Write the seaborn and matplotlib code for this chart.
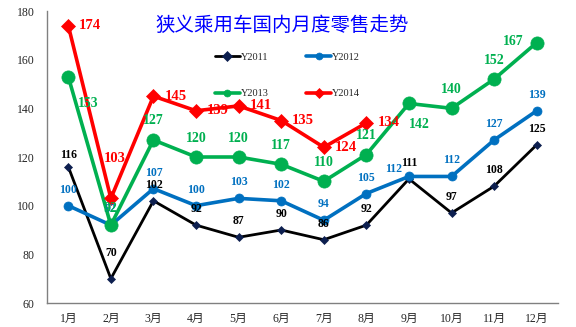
import matplotlib
matplotlib.use("Agg")
import matplotlib.pyplot as plt
import seaborn as sns
import pandas as pd
import numpy as np

months = ["1月", "2月", "3月", "4月", "5月", "6月", "7月", "8月", "9月", "10月", "11月", "12月"]
y2011 = [116, 70, 102, 92, 87, 90, 86, 92, 111, 97, 108, 125]
y2012 = [100, 92, 107, 100, 103, 102, 94, 105, 112, 112, 127, 139]
y2013 = [153, 92, 127, 120, 120, 117, 110, 121, 142, 140, 152, 167]
y2014 = [174, 103, 145, 139, 141, 135, 124, 134]
series_names = ["Y2011", "Y2012", "Y2013", "Y2014"]
title = "狭义乘用车国内月度零售走势"

sns.set_theme(style="white")
plt.rcParams["font.family"] = ["Liberation Serif", "Noto Sans CJK SC"]

styles = {
    "Y2011": dict(color="#000000", mfc="#0D1F4F", marker="D", lw=2.0, ms=4.5, fs=8.5, lblc="#000000"),
    "Y2012": dict(color="#0070C0", mfc="#0070C0", marker="o", lw=2.6, ms=6.5, fs=8.5, lblc="#0070C0"),
    "Y2013": dict(color="#00B050", mfc="#00B050", marker="o", lw=2.6, ms=9.5, fs=10, lblc="#00B050"),
    "Y2014": dict(color="#FF0000", mfc="#FF0000", marker="D", lw=2.6, ms=7, fs=10.5, lblc="#FF0000"),
}
# label offsets in pixels (dx, dy up)
default_off = {"Y2011": (0, 16), "Y2012": (0, 16), "Y2013": (0, 19), "Y2014": (22, 0)}
special_off = {
    ("Y2011", 0): (0, 12), ("Y2011", 1): (0, 26),
    ("Y2012", 0): (0, 16), ("Y2012", 8): (-15, 7),
    ("Y2013", 0): (20, -27), ("Y2013", 1): (0, 17), ("Y2013", 8): (10, -21),
    ("Y2013", 11): (-23, 1),
    ("Y2014", 1): (4, 40),
}

values = {"Y2011": y2011, "Y2012": y2012, "Y2013": y2013, "Y2014": y2014}
frames = []
for name in series_names:
    v = values[name]
    frames.append(pd.DataFrame({"idx": np.arange(len(v)), "month": months[:len(v)],
                                "value": v, "series": name}))
df = pd.concat(frames, ignore_index=True)

fig = plt.figure(figsize=(5.76, 3.27), dpi=100)
ax = fig.add_axes([47 / 576, 1 - 303 / 327, 511 / 576, 292 / 327])

handles = {}
for name in series_names:
    st = styles[name]
    sub = df[df["series"] == name]
    sns.lineplot(data=sub, x="idx", y="value", ax=ax, color=st["color"], lw=st["lw"],
                 marker=st["marker"], markersize=st["ms"], markerfacecolor=st["mfc"],
                 markeredgecolor=st["mfc"], markeredgewidth=0.5, legend=False, zorder=3)
    handles[name] = ax.lines[-1]
    for i, val in zip(sub["idx"], sub["value"]):
        dx, dy = special_off.get((name, i), default_off[name])
        ax.annotate(str(val), (i, val), xytext=(dx * 0.72, dy * 0.72), textcoords="offset points",
                    ha="center", va="center", fontsize=st["fs"], fontweight="bold",
                    color=st["lblc"], zorder=5)

ax.set_xlim(-0.5, 11.5)
ax.set_ylim(60, 180)
ax.set_yticks(np.arange(60, 181, 20))
ax.set_xticks(np.arange(12))
ax.set_xticklabels(months, fontsize=8.5)
ax.set_xticks(np.arange(-0.5, 12, 1), minor=True)
ax.tick_params(axis="x", which="major", length=0, pad=7)
ax.tick_params(axis="x", which="minor", length=4, width=0.8, color="#808080", direction="out")
ax.tick_params(axis="y", length=4, width=0.8, color="#808080", direction="out", labelsize=8.5, pad=5)
ax.set_xlabel("")
ax.set_ylabel("")
for s in ["top", "right"]:
    ax.spines[s].set_visible(False)
for s in ["left", "bottom"]:
    ax.spines[s].set_color("#808080")
    ax.spines[s].set_linewidth(1.0)

order = ["Y2011", "Y2013", "Y2012", "Y2014"]
leg = ax.legend([handles[n] for n in order], order, ncol=2, frameon=False,
                loc="upper left", bbox_to_anchor=(0.31, 0.89), fontsize=7.5,
                labelspacing=2.6, columnspacing=3.6, handlelength=2.4, handletextpad=0.1)
for h in leg.legend_handles:
    h.set_markersize(5)

fig.text(282 / 576, 1 - 25 / 327, title, color="#0000FF", fontsize=14,
         ha="center", va="center", family=["Noto Sans CJK SC"])

fig.savefig("out.png", dpi=100, facecolor="white")
